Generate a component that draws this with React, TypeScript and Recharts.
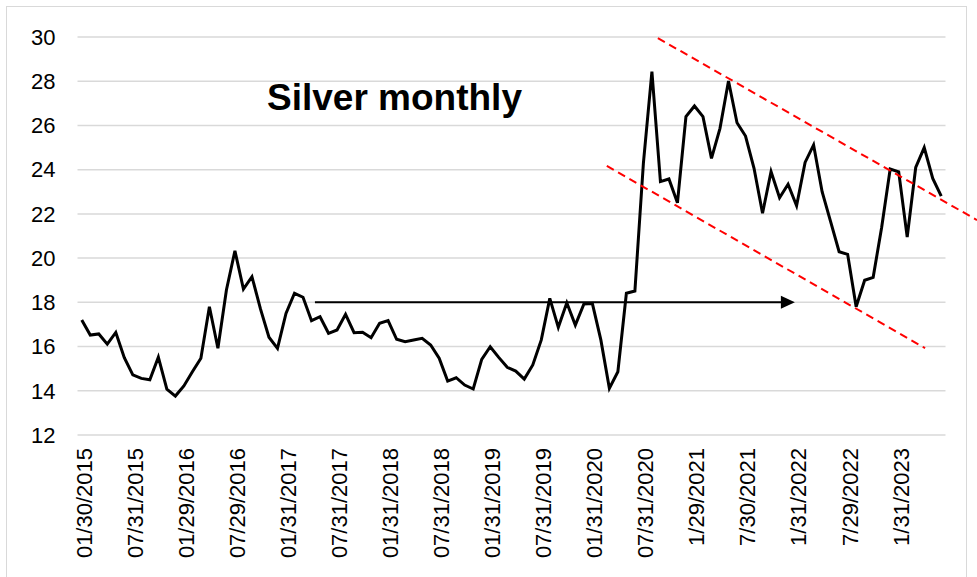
import React from 'react';
import { LineChart, Line, XAxis, YAxis, CartesianGrid, ReferenceLine } from 'recharts';

const dates: string[] = [
  '01/30/2015', '02/27/2015', '03/31/2015', '04/30/2015', '05/29/2015', '06/30/2015', '07/31/2015', '08/31/2015', '09/30/2015', '10/30/2015', '11/30/2015', '12/31/2015',
  '01/29/2016', '02/29/2016', '03/31/2016', '04/29/2016', '05/31/2016', '06/30/2016', '07/29/2016', '08/31/2016', '09/30/2016', '10/31/2016', '11/30/2016', '12/30/2016',
  '01/31/2017', '02/28/2017', '03/31/2017', '04/28/2017', '05/31/2017', '06/30/2017', '07/31/2017', '08/31/2017', '09/29/2017', '10/31/2017', '11/30/2017', '12/29/2017',
  '01/31/2018', '02/28/2018', '03/29/2018', '04/30/2018', '05/31/2018', '06/29/2018', '07/31/2018', '08/31/2018', '09/28/2018', '10/31/2018', '11/30/2018', '12/31/2018',
  '01/31/2019', '02/28/2019', '03/29/2019', '04/30/2019', '05/31/2019', '06/28/2019', '07/31/2019', '08/30/2019', '09/30/2019', '10/31/2019', '11/29/2019', '12/31/2019',
  '01/31/2020', '02/28/2020', '03/31/2020', '04/30/2020', '05/29/2020', '06/30/2020', '07/31/2020', '08/31/2020', '09/30/2020', '10/30/2020', '11/30/2020', '12/31/2020',
  '1/29/2021', '2/26/2021', '3/31/2021', '4/30/2021', '5/28/2021', '6/30/2021', '7/30/2021', '8/31/2021', '9/30/2021', '10/29/2021', '11/30/2021', '12/31/2021',
  '1/31/2022', '2/28/2022', '3/31/2022', '4/29/2022', '5/31/2022', '6/30/2022', '7/29/2022', '8/31/2022', '9/30/2022', '10/31/2022', '11/30/2022', '12/30/2022',
  '1/31/2023', '2/28/2023', '3/31/2023', '4/28/2023', '5/31/2023', '6/30/2023',
];

const prices: number[] = [
  17.2, 16.52, 16.57, 16.11, 16.64, 15.5, 14.72, 14.56, 14.5, 15.52, 14.07, 13.76,
  14.22, 14.86, 15.47, 17.8, 15.92, 18.56, 20.33, 18.6, 19.16, 17.7, 16.42, 15.92,
  17.5, 18.41, 18.23, 17.17, 17.35, 16.6, 16.75, 17.46, 16.63, 16.65, 16.4, 17.05,
  17.17, 16.33, 16.22, 16.3, 16.37, 16.07, 15.47, 14.44, 14.59, 14.26, 14.08, 15.42,
  15.99, 15.51, 15.06, 14.89, 14.53, 15.17, 16.3, 18.18, 16.87, 17.98, 16.97, 17.92,
  17.95, 16.3, 14.11, 14.86, 18.41, 18.51, 24.3, 28.43, 23.46, 23.58, 22.5, 26.4,
  26.88, 26.4, 24.51, 25.87, 28.01, 26.12, 25.52, 24.06, 22.03, 23.91, 22.73, 23.34,
  22.37, 24.33, 25.12, 23.0, 21.65, 20.29, 20.17, 17.8, 19.0, 19.13, 21.4, 24.03,
  23.9, 20.95, 24.1, 25.0, 23.6, 22.8,
];

const yTicks: number[] = [12, 14, 16, 18, 20, 22, 24, 26, 28, 30];
const xTickIndexes: number[] = [0, 6, 12, 18, 24, 30, 36, 42, 48, 54, 60, 66, 72, 78, 84, 90, 96];

const upperTrend = [{ x: 67.7, y: 29.95 }, { x: 105.2, y: 21.72 }];
const lowerTrend = [{ x: 61.7, y: 24.17 }, { x: 99.1, y: 15.93 }];
const flatArrow = [{ x: 27.4, y: 18 }, { x: 83.8, y: 18 }];

const title = 'Silver monthly';

const rows = dates.map((d, i) => ({ i, date: d, price: prices[i] }));

const FONT = '"Liberation Sans", Arial, sans-serif';

const XTick = (props: any) => {
  const { x, y, payload } = props;
  const cx = x + 2;
  return (
    <text
      x={cx}
      y={y}
      transform={`rotate(-90 ${cx} ${y})`}
      textAnchor="end"
      dy="0.36em"
      fill="#000"
      fontSize={22}
      fontFamily={FONT}
    >
      {dates[payload.value]}
    </text>
  );
};

const ArrowShape = (p: any) => {
  const { x1, y1, x2, y2 } = p;
  return (
    <g>
      <line x1={x1} y1={y1} x2={x2 - 10} y2={y2} stroke="#000" strokeWidth={2} />
      <polygon points={`${x2},${y2} ${x2 - 14},${y2 - 6.5} ${x2 - 14},${y2 + 6.5}`} fill="#000" />
    </g>
  );
};

export default function App() {
  return (
    <div style={{ position: 'absolute', left: 0, top: 0, width: 977, height: 577, background: '#fff', overflow: 'hidden' }}>
      <div
        style={{
          position: 'absolute',
          left: 6,
          top: 6,
          width: 961,
          height: 600,
          border: '1.5px solid #d9d9d9',
          boxSizing: 'border-box',
        }}
      />
      <div style={{ position: 'absolute', left: 0, top: 0 }}>
        <LineChart width={977} height={577} data={rows} margin={{ top: 37, right: 31.5, left: 17.5, bottom: 0 }}>
          <CartesianGrid horizontal vertical={false} stroke="#d9d9d9" strokeWidth={1.5} />
          <XAxis
            type="number"
            dataKey="i"
            domain={[-0.5, 101.5]}
            ticks={xTickIndexes}
            interval={0}
            height={142}
            axisLine={false}
            tickLine={false}
            tickSize={5}
            tickMargin={8}
            tick={<XTick />}
          />
          <YAxis
            type="number"
            domain={[12, 30]}
            ticks={yTicks}
            interval={0}
            width={60}
            axisLine={false}
            tickLine={false}
            tickSize={14}
            tickMargin={8}
            tick={{ fill: '#000', fontSize: 22, fontFamily: FONT }}
          />
          <Line
            type="linear"
            dataKey="price"
            stroke="#000"
            strokeWidth={3}
            dot={false}
            isAnimationActive={false}
          />
          <ReferenceLine segment={upperTrend} stroke="#ff0000" strokeWidth={2} strokeDasharray="8 5" ifOverflow="visible" />
          <ReferenceLine segment={lowerTrend} stroke="#ff0000" strokeWidth={2} strokeDasharray="8 5" ifOverflow="visible" />
          <ReferenceLine segment={flatArrow} ifOverflow="visible" shape={ArrowShape} />
        </LineChart>
      </div>
      <div
        style={{
          position: 'absolute',
          left: 267,
          top: 78.7,
          fontFamily: FONT,
          fontWeight: 'bold',
          fontSize: 37,
          lineHeight: '37px',
          color: '#000',
          whiteSpace: 'nowrap',
        }}
      >
        {title}
      </div>
    </div>
  );
}
